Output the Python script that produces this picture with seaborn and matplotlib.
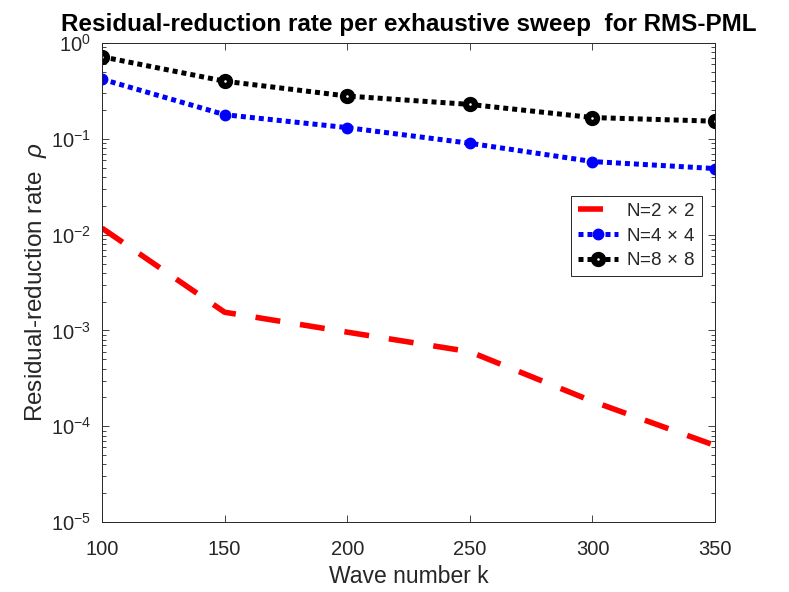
import numpy as np
import pandas as pd
import matplotlib
matplotlib.use('Agg')
import matplotlib.pyplot as plt
import seaborn as sns

# datos
wave_k = [100, 150, 200, 250, 300, 350]
rate_n2 = [0.0117, 0.00155, 0.00096, 0.0006, 0.000182, 0.000063]
rate_n4 = [0.42, 0.179, 0.131, 0.090, 0.058, 0.049]
rate_n8 = [0.72, 0.40, 0.28, 0.229, 0.167, 0.153]
labels = ['N=2$\\,\\times\\,$2', 'N=4$\\,\\times\\,$4', 'N=8$\\,\\times\\,$8']

sns.set_theme(style='ticks')
plt.rcParams['font.family'] = ['Liberation Sans', 'DejaVu Sans']
plt.rcParams['mathtext.fontset'] = 'custom'
plt.rcParams['mathtext.rm'] = 'Liberation Sans'
plt.rcParams['mathtext.it'] = 'Liberation Sans:italic'

fig = plt.figure(figsize=(7.89, 5.92), dpi=100)
ax = fig.add_axes([0.1293, 0.1182, 0.777, 0.809])

df = pd.DataFrame({'k': wave_k, 'n2': rate_n2, 'n4': rate_n4, 'n8': rate_n8})

sns.lineplot(data=df, x='k', y='n2', ax=ax, color='red', linewidth=4,
             label=labels[0])
sns.lineplot(data=df, x='k', y='n4', ax=ax, color='blue', linewidth=3.6,
             marker='o', markersize=7.5, markeredgewidth=1,
             markeredgecolor='blue', label=labels[1])
sns.lineplot(data=df, x='k', y='n8', ax=ax, color='black', linewidth=3.6,
             marker='o', markersize=6.5, markeredgewidth=4.5,
             markerfacecolor='white', markeredgecolor='black', label=labels[2])

# estilos de linea tipo matlab
ax.lines[0].set_dashes([4.5, 3.6])
ax.lines[1].set_dashes([1, 0.8])
ax.lines[2].set_dashes([1, 0.8])
for ln in ax.lines:
    ln.set_dash_capstyle('butt')

ax.set_yscale('log')
ax.set_xlim(100, 350)
ax.set_ylim(1e-5, 1)
ax.set_xticks(wave_k)
ax.set_yticks([1e-5, 1e-4, 1e-3, 1e-2, 1e-1, 1])

ax.tick_params(which='both', direction='in', top=True, right=True,
               labelsize=14.5, colors='#262626', width=0.6)
ax.tick_params(which='major', length=5)
ax.tick_params(which='minor', length=3)
ax.tick_params(axis='x', which='minor', top=False, bottom=False)
ax.tick_params(axis='x', which='major', pad=13)
ax.tick_params(axis='y', which='major', pad=8)
for side in ax.spines.values():
    side.set_linewidth(0.7)
    side.set_color('#262626')
    side.set_visible(True)

ax.set_xlabel('Wave number k', fontsize=16.5, color='#262626', labelpad=4)
ax.set_ylabel('Residual-reduction rate  $\\rho$', fontsize=17.5,
              color='#262626', labelpad=1)
ax.set_title('Residual-reduction rate per exhaustive sweep  for RMS-PML',
             fontsize=17.5, fontweight='bold', color='black', pad=9)

leg = ax.legend(loc='upper right', bbox_to_anchor=(0.979, 0.68), fontsize=13.5,
                frameon=True, fancybox=False, edgecolor='#262626',
                handlelength=2.15, handletextpad=0.45, borderpad=0.35,
                labelspacing=0.4, borderaxespad=0)
leg.get_frame().set_linewidth(0.7)
leg.get_frame().set_alpha(1)

fig.savefig('out.png', dpi=100, facecolor='white')
